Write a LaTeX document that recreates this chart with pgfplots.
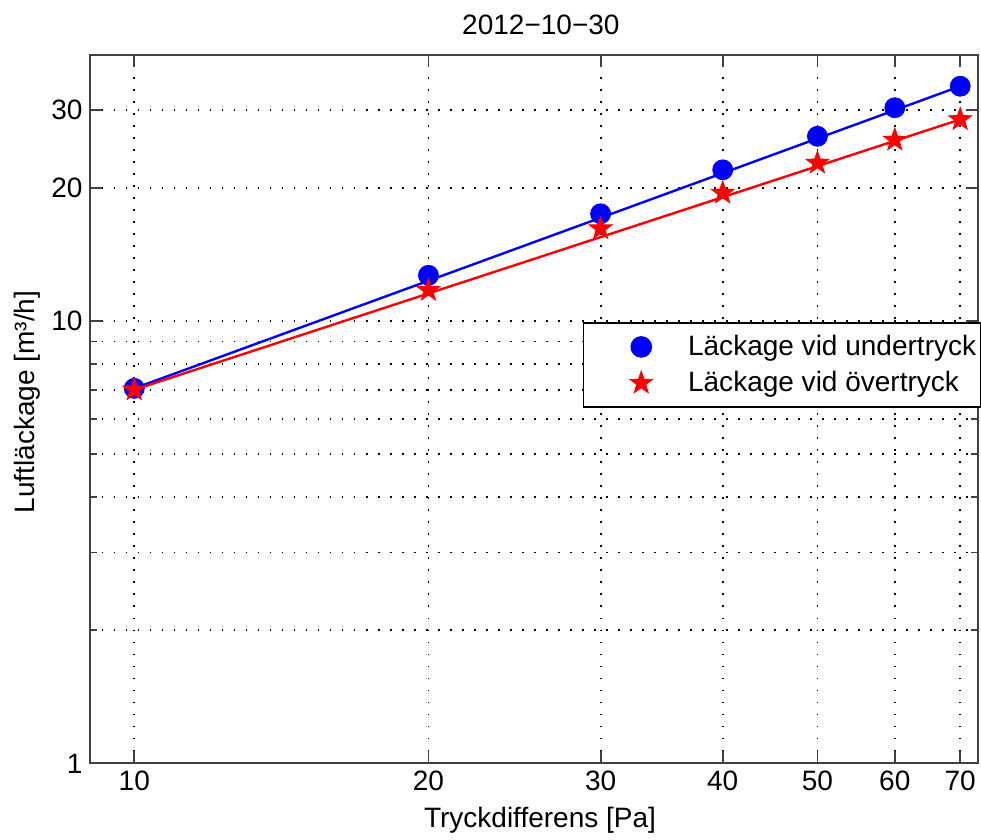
\documentclass[border=0pt]{standalone}
\usepackage{fontspec}
\setmainfont{Liberation Sans}
\usepackage{pgfplots}
\pgfplotsset{compat=1.18}
\pgfdeclareplotmark{fstar}{%
  \pgfpathmoveto{\pgfpointpolar{90}{\pgfplotmarksize}}%
  \pgfpathlineto{\pgfpointpolar{126}{0.4\pgfplotmarksize}}%
  \pgfpathlineto{\pgfpointpolar{162}{\pgfplotmarksize}}%
  \pgfpathlineto{\pgfpointpolar{198}{0.4\pgfplotmarksize}}%
  \pgfpathlineto{\pgfpointpolar{234}{\pgfplotmarksize}}%
  \pgfpathlineto{\pgfpointpolar{270}{0.4\pgfplotmarksize}}%
  \pgfpathlineto{\pgfpointpolar{306}{\pgfplotmarksize}}%
  \pgfpathlineto{\pgfpointpolar{342}{0.4\pgfplotmarksize}}%
  \pgfpathlineto{\pgfpointpolar{18}{\pgfplotmarksize}}%
  \pgfpathlineto{\pgfpointpolar{54}{0.4\pgfplotmarksize}}%
  \pgfpathclose
  \pgfusepathqfillstroke}
\pgfplotsset{mylegimg/.style={legend image code/.code={%
  \path (0pt,0pt) (49pt,0pt);
  \draw[mark repeat=2,mark phase=2,##1] plot coordinates {(0pt,0pt)(28.5pt,0pt)(49pt,0pt)};}}}
\begin{document}
\begin{tikzpicture}
\begin{axis}[
  name=ax,
  scale only axis,
  width=444pt, height=354pt,
  xmode=log, ymode=log,
  xmin=9, xmax=73, ymin=1, ymax=40,
  xtick={10,20,30,40,50,60,70},
  xticklabels={10,20,30,40,50,60,70},
  ytick={1,10,20,30},
  yticklabels={1,10,20,30},
  minor ytick={2,3,4,5,6,7,8,9},
  grid=both,
  major grid style={black, line width=0.9pt, dash pattern=on 0.9pt off 5.1pt},
  minor grid style={black, line width=0.9pt, dash pattern=on 0.9pt off 5.1pt},
  tick align=inside,
  major tick length=6pt,
  minor tick length=3.5pt,
  every tick/.style={black!75, line width=0.9pt},
  axis line style={black!75, line width=1pt},
  /pgf/number format/assume math mode=true,
  tick label style={font=\fontsize{14}{16}\selectfont},
  title={2012−10−30},
  every axis title/.style={at={(axis description cs:0.508,1.0424)}, anchor=center, font=\fontsize{14}{16}\selectfont},
  xlabel={Tryckdifferens [Pa]},
  ylabel={Luftläckage [m³/h]},
  every axis x label/.style={at={(axis description cs:0.507,-0.0805)}, anchor=center, font=\fontsize{14}{16}\selectfont},
  every axis y label/.style={at={(axis description cs:-0.0698,0.51)}, anchor=center, rotate=90, font=\fontsize{14}{16}\selectfont},
  legend style={at={(0.555,0.623)}, anchor=north west, draw=black, line width=0.8pt,
    fill=white, inner xsep=0pt, inner ysep=3.5pt, row sep=1pt,
    font=\fontsize{14}{16}\selectfont,
    nodes={inner ysep=2.7pt, inner xsep=2.5pt}},
  legend cell align=left,
  legend columns=1,
]
% fitted lines
\addplot[blue, line width=1.2pt, forget plot] coordinates {(10,7.05) (70,34.0)};
\addplot[red, line width=1.2pt, forget plot] coordinates {(10,7.0) (70,28.6)};
% measured points
\addplot[only marks, mark=*, mark size=5pt, blue, mark options={fill=blue, draw=blue}, mylegimg] coordinates {
  (10,7.05) (20,12.7) (30,17.5) (40,22.0) (50,26.2) (60,30.4) (70,34.0)};
\addlegendentry{Läckage vid undertryck}
\addplot[only marks, mark=fstar, mark size=6pt, red, mark options={fill=red, draw=red, line width=0.4pt}, mylegimg] coordinates {
  (10,7.0) (20,11.75) (30,16.2) (40,19.5) (50,22.8) (60,25.7) (70,28.6)};
\addlegendentry{Läckage vid övertryck}
\end{axis}
\pgfresetboundingbox
\path ([shift={(-44.75pt,-38pt)}]ax.south west) rectangle ([shift={(1.5pt,27.5pt)}]ax.north east);
\end{tikzpicture}
\end{document}
